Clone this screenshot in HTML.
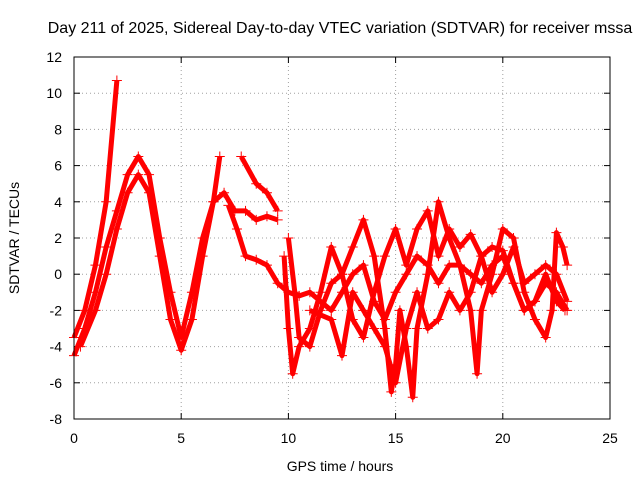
<!DOCTYPE html>
<html><head><meta charset="utf-8"><style>
body{margin:0;background:#fff;font-family:"Liberation Sans",sans-serif}
svg text{font-family:"Liberation Sans",sans-serif;font-size:14px;fill:#000}
</style></head><body>
<svg id="chart" width="640" height="480" xmlns="http://www.w3.org/2000/svg">
<text x="340" y="33" text-anchor="middle" style="font-size:16px">Day 211 of 2025, Sidereal Day-to-day VTEC variation (SDTVAR) for receiver mssa</text>
<text x="340" y="471" text-anchor="middle">GPS time / hours</text>
<text transform="translate(19,238) rotate(-90)" text-anchor="middle">SDTVAR / TECUs</text>
<g id="grid"></g><g id="ticks"></g><g id="series"></g>
<rect x="74" y="57" width="536" height="362" fill="none" stroke="#000" stroke-width="1"/>
</svg>
<script>
const xTicks=[0,5,10,15,20,25];
const yTicks=[-8,-6,-4,-2,0,2,4,6,8,10,12];
const trackA=[[0,-4.5],[0.5,-3],[1,-1],[1.5,1.5],[2,3.5],[2.5,5.5],[3,6.5],[3.5,5.5],[4,2],[4.5,-1],[5,-3.5],[5.5,-1],[6,2],[6.5,4],[7,4.5],[7.5,3.5],[8,3.5],[8.5,3],[9,3.2],[9.5,3]];
const trackB=[[0,-3.5],[0.5,-2],[1,0.5],[1.5,4],[2,10.7]];
const trackC=[[0.3,-4],[1,-2],[1.5,0],[2,2.5],[2.5,4.5],[3,5.5],[3.5,4.5],[4,1],[4.5,-2.5],[5,-4.2],[5.5,-2.5],[6,1],[6.5,4],[6.8,6.5]];
const trackD=[[7.8,6.5],[8.5,5],[9,4.5],[9.5,3.5]];
const trackE=[[7.2,3.8],[7.6,2.5],[8,1],[8.5,0.8],[9,0.5],[9.5,-0.5],[10,-1],[10.5,-1.2],[11,-1],[11.5,-1.5],[12,-2],[12.5,-1],[13,0],[13.5,0.5],[14,-1.5],[14.5,-2.5],[15,-1],[15.5,0],[16,1],[16.5,0.5],[17,-0.5],[17.5,0.5],[18,0.5],[18.5,0],[19,-0.5],[19.5,0.5],[20,1],[20.5,-0.5],[21,-2],[21.5,-1.5],[22,-0.5],[22.5,-1],[23,-2]];
const trackF=[[10,2],[10.3,-1],[10.5,-3.5],[11,-4],[11.5,-2],[12,-0.5],[12.5,0],[13,1.5],[13.5,3],[14,1],[14.5,-3],[14.8,-6.5],[15,-5],[15.2,-2],[15.5,-4],[15.8,-6.8],[16,-3],[16.5,0],[17,4],[17.5,2],[18,0.5],[18.5,-2],[18.8,-5.5],[19,-2],[19.5,0],[20,2.5],[20.5,2],[21,-1],[21.5,-2.5],[22,-3.5],[22.3,-2],[22.5,2.3],[22.8,1.5],[23,0.5]];
const trackG=[[9.8,1],[10,-3],[10.2,-5.5],[10.5,-4],[11,-3],[11.5,-1],[12,1.5],[12.5,0],[13,-2.5],[13.5,-3.5],[14,-1],[14.5,1],[15,2.5],[15.5,0.5],[16,2.5],[16.5,3.5],[17,1],[17.5,2.5],[18,1.5],[18.5,2.2],[19,1],[19.5,-1],[20,0],[20.5,1.5],[21,-0.5],[21.5,0],[22,0.5],[22.5,0],[23,-1.5]];
const trackH=[[11,-2],[12,-2.5],[12.5,-4.5],[13,-1],[13.5,-2],[14,-3],[14.5,-4],[15,-6],[15.5,-3],[16,-1],[16.5,-3],[17,-2.5],[17.5,-1],[18,-2],[18.5,-1],[19,1],[19.5,1.5],[20,1.3],[20.5,-0.5],[21,-2],[21.5,-1.5],[22,0],[22.5,-1.5],[22.9,-2]];
const tracks=[trackA,trackB,trackC,trackD,trackE,trackF,trackG,trackH];
const NS="http://www.w3.org/2000/svg";
const X0=74,X1=610,Y0=419,Y1=57;
function sx(v){return X0+(v-0)/(25-0)*(X1-X0);}
function sy(v){return Y0-(v-(-8))/(12-(-8))*(Y0-Y1);}
function mk(tag,attrs,parent){const e=document.createElementNS(NS,tag);for(const k in attrs)e.setAttribute(k,attrs[k]);parent.appendChild(e);return e;}
const grid=document.getElementById('grid'),ticks=document.getElementById('ticks'),ser=document.getElementById('series');
xTicks.forEach(t=>{const x=sx(t);
 if(t>0&&t<25){const g=mk('line',{x1:x,x2:x,y1:Y0,y2:Y1,stroke:'#a0a0a0','stroke-dasharray':'1,3'},grid);
 
 }
 mk('line',{x1:x,x2:x,y1:Y0,y2:Y0-6,stroke:'#000'},ticks);mk('line',{x1:x,x2:x,y1:Y1,y2:Y1+6,stroke:'#000'},ticks);
 const l=mk('text',{x:x,y:Y0+24,'text-anchor':'middle'},ticks);l.textContent=t;
 
 });
yTicks.forEach(t=>{const y=sy(t);
 if(t>-8&&t<12){const g=mk('line',{x1:X0,x2:X1,y1:y,y2:y,stroke:'#a0a0a0','stroke-dasharray':'1,3'},grid);
 
 }
 mk('line',{x1:X0,x2:X0+6,y1:y,y2:y,stroke:'#000'},ticks);mk('line',{x1:X1,x2:X1-6,y1:y,y2:y,stroke:'#000'},ticks);
 const l=mk('text',{x:X0-12,y:y+5,'text-anchor':'end'},ticks);l.textContent=t;
 
 });
tracks.forEach((tr,i)=>{
 const pl=mk('polyline',{points:tr.map(p=>sx(p[0])+','+sy(p[1])).join(' '),fill:'none',stroke:'#f00','stroke-width':5,'stroke-linejoin':'round'},ser);
 
 
 tr.forEach(p=>{const x=sx(p[0]),y=sy(p[1]);
  const m=mk('path',{d:`M${x-5},${y}H${x+5}M${x},${y-5}V${y+5}`,stroke:'#f00','stroke-width':1},ser);
  
  });
});
</script>
</body></html>
